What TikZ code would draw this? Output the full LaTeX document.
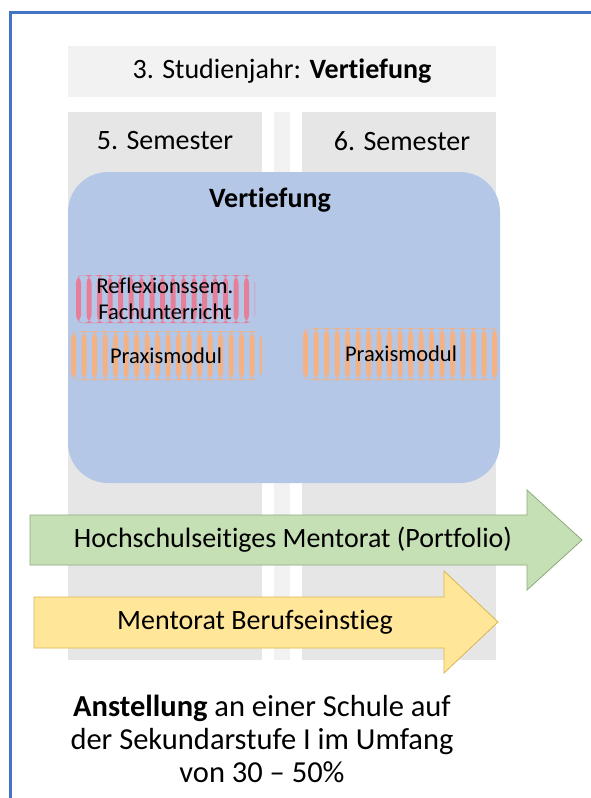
\documentclass[tikz,border=0pt]{standalone}
\usepackage{fontspec}
\setmainfont{Carlito}[Ligatures=NoCommon]

\definecolor{okvir}{HTML}{4472C4}
\definecolor{sivaA}{HTML}{F2F2F2}
\definecolor{sivaB}{HTML}{E7E6E6}
\definecolor{modra}{HTML}{B4C7E7}
\definecolor{roza}{HTML}{E6809A}
\definecolor{oranzna}{HTML}{F4B183}
\definecolor{zelena}{HTML}{C5E0B4}
\definecolor{zelenarob}{HTML}{8FAA7A}
\definecolor{rumena}{HTML}{FFE699}
\definecolor{rumenarob}{HTML}{D9B650}

\tikzset{
  polje/.style={inner sep=0pt, minimum width=#1},
  naslov/.style={font=\fontsize{28}{32}\selectfont},
  modul/.style={inner sep=0pt, rounded corners=8pt, align=center,
    font=\fontsize{22.5}{26}\selectfont,
    path picture={
      \foreach \k in {0,...,19}
        \fill[#1] ([xshift=\k*10.5pt+1pt]path picture bounding box.north west)
          rectangle ([xshift=\k*10.5pt+6pt]path picture bounding box.south west);
    }},
  puscica/.style={line width=0.8pt}
}

\begin{document}
\begin{tikzpicture}[x=1pt,y=-1pt]
\useasboundingbox (0,0) rectangle (591,798);
\fill[white] (0,0) rectangle (591,798);

% okvir
\coordinate (ok1) at (10,800);
\coordinate (ok2) at (10,12);
\coordinate (ok3) at (593,12);
\draw[okvir,line width=3pt] (ok1)--(ok2)--(ok3);

% leto in semestra
\node[polje=428pt, minimum height=51pt, fill=sivaA, naslov] (leto) at (282,71.5)
  {3. Studienjahr: \textbf{Vertiefung}};
\node[polje=194pt, minimum height=548pt, fill=sivaB] (sem5) at (165,386) {};
\node[polje=16pt, minimum height=548pt, fill=sivaA] (vmes) at (282,386) {};
\node[polje=194pt, minimum height=548pt, fill=sivaB] (sem6) at (399,386) {};
\node[naslov] (sem5txt) at (165,141) {5. Semester};
\node[naslov] (sem6txt) at (402,141) {6. Semester};

% vertiefung
\node[polje=432pt, minimum height=311pt, fill=modra, rounded corners=40pt] (vert) at (284,327.5) {};
\node[naslov] (verttxt) at (270,200) {\textbf{Vertiefung}};

\node[modul=roza, minimum width=180pt, minimum height=48pt] (refl) at (165,299)
  {Reflexionssem.\\Fachunterricht};
\node[modul=oranzna, minimum width=192pt, minimum height=49pt] (prax5) at (166,355.5)
  {Praxismodul};
\node[modul=oranzna, minimum width=198pt, minimum height=52pt] (prax6) at (401,354)
  {Praxismodul};

% puscici
\draw[puscica, fill=zelena, draw=zelenarob] (30,515)--(527,515)--(527,490)--(582,540)--(527,590)--(527,565)--(30,565)--cycle;
\node[naslov] (mentorat) at (293,540) {Hochschulseitiges Mentorat (Portfolio)};
\draw[puscica, fill=rumena, draw=rumenarob] (34,597)--(444,597)--(444,571)--(498,622)--(444,673)--(444,648)--(34,648)--cycle;
\node[naslov] (berufs) at (255,622) {Mentorat Berufseinstieg};

\node[align=center, font=\fontsize{30.5}{33}\selectfont] (anst) at (262,739)
  {\textbf{Anstellung} an einer Schule auf\\der Sekundarstufe I im Umfang\\von 30 -- 50\%};
\end{tikzpicture}
\end{document}
